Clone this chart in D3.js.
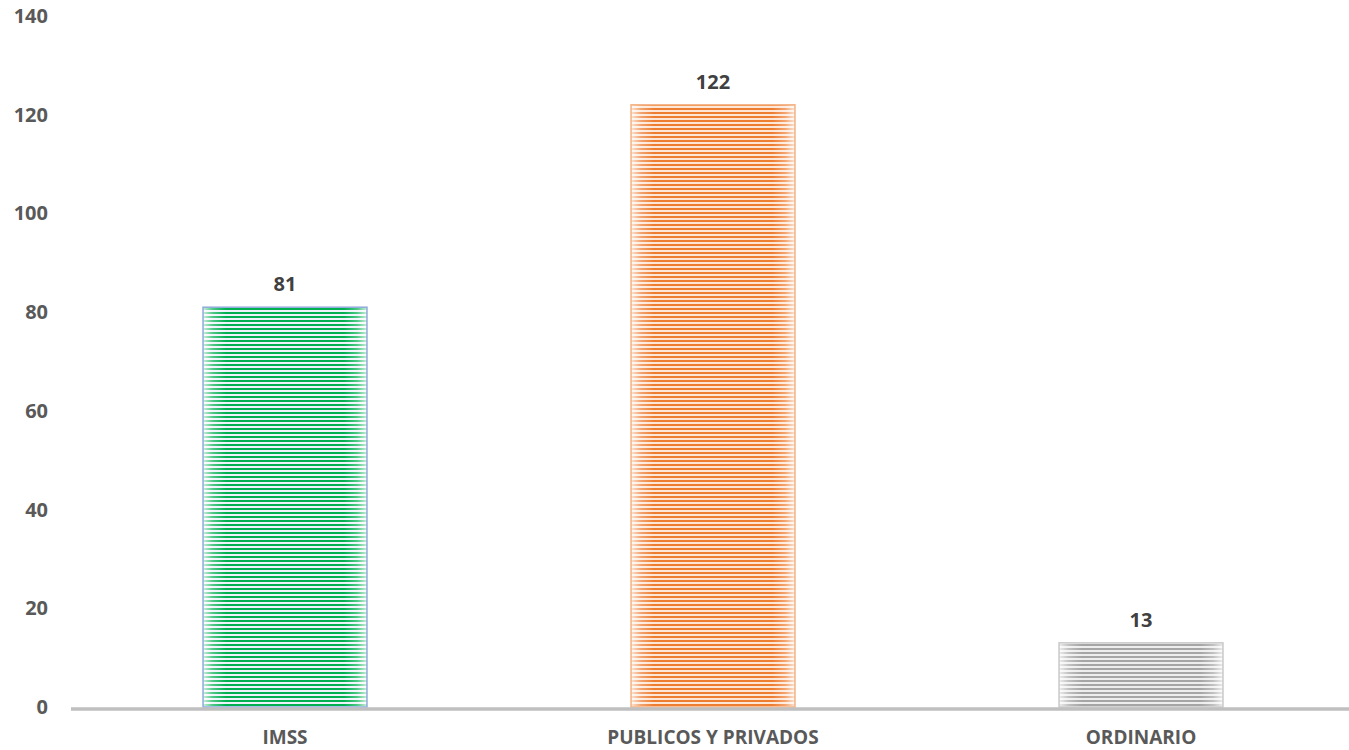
<!DOCTYPE html>
<html>
<head>
<meta charset="utf-8">
<script src="https://cdn.jsdelivr.net/npm/d3@7"></script>
<style>
	body { margin: 0; background: #fff; }
	text { font-family: "Open Sans", sans-serif; font-weight: bold; }
</style>
</head>
<body>
<script>
const categories = ['IMSS', 'PUBLICOS Y PRIVADOS', 'ORDINARIO'];
const values = [81, 122, 13];
const stripeColors = ['#00b050', '#ed7d31', '#a5a5a5'];
const lightColors = ['#eef3fb', '#fde6d6', '#ededed'];
const edgeColors = ['#8faadc', '#f4b183', '#c9c9c9'];
const yTicks = [0, 20, 40, 60, 80, 100, 120, 140];

const w = 1349,
	h = 750;

const svg = d3.select('body')
	.append('svg')
	.attr('width', w)
	.attr('height', h);

//scales
const x = d3.scaleBand()
	.domain(categories)
	.range([71, 1355])
	.paddingInner(0.617)
	.paddingOuter(0.3085);

const y = d3.scaleLinear()
	.domain([0, 140])
	.range([707, 16]);

const defs = svg.append('defs');

//striped fill for each bar
categories.forEach((c, i) => {
	const p = defs.append('pattern')
		.attr('id', 'stripe' + i)
		.attr('patternUnits', 'userSpaceOnUse')
		.attr('width', 8)
		.attr('height', 4);
	p.append('rect').attr('width', 8).attr('height', 4).attr('fill', lightColors[i]);
	p.append('rect').attr('width', 8).attr('height', 2).attr('fill', stripeColors[i]);
});

//soft fade at the bar sides
const grad = defs.append('linearGradient')
	.attr('id', 'fade')
	.attr('x1', '0%').attr('x2', '100%')
	.attr('y1', '0%').attr('y2', '0%');
[[0, 0.8], [0.06, 0.3], [0.14, 0], [0.86, 0], [0.94, 0.3], [1, 0.8]].forEach(([o, a]) => {
	grad.append('stop')
		.attr('offset', o)
		.attr('stop-color', '#fff')
		.attr('stop-opacity', a);
});

//y axis labels
svg.append('g')
	.selectAll('text')
	.data(yTicks)
	.enter()
	.append('text')
	.attr('x', 48)
	.attr('y', (d) => y(d))
	.attr('dy', '0.35em')
	.attr('text-anchor', 'end')
	.attr('font-size', 20)
	.attr('fill', '#595959')
	.text((d) => d);

const bars = svg.append('g')
	.selectAll('g')
	.data(values)
	.enter()
	.append('g');

bars.append('rect')
	.attr('x', (d, i) => x(categories[i]))
	.attr('y', (d) => y(d))
	.attr('width', x.bandwidth())
	.attr('height', (d) => y(0) - y(d))
	.attr('fill', (d, i) => `url(#stripe${i})`);

bars.append('rect')
	.attr('x', (d, i) => x(categories[i]))
	.attr('y', (d) => y(d))
	.attr('width', x.bandwidth())
	.attr('height', (d) => y(0) - y(d))
	.attr('fill', 'url(#fade)')
	.attr('stroke', (d, i) => edgeColors[i])
	.attr('stroke-width', 1.5);

//value labels
bars.append('text')
	.attr('x', (d, i) => x(categories[i]) + x.bandwidth() / 2)
	.attr('y', (d) => y(d) - 16)
	.attr('text-anchor', 'middle')
	.attr('font-size', 20)
	.attr('fill', '#404040')
	.text((d) => d);

//x axis line
svg.append('line')
	.attr('x1', 71)
	.attr('x2', w)
	.attr('y1', 709)
	.attr('y2', 709)
	.attr('stroke', '#bfbfbf')
	.attr('stroke-width', 3.5);

//category labels
svg.append('g')
	.selectAll('text')
	.data(categories)
	.enter()
	.append('text')
	.attr('x', (d) => x(d) + x.bandwidth() / 2)
	.attr('y', 744)
	.attr('text-anchor', 'middle')
	.attr('font-size', 19)
	.attr('fill', '#595959')
	.text((d) => d);
</script>
</body>
</html>
